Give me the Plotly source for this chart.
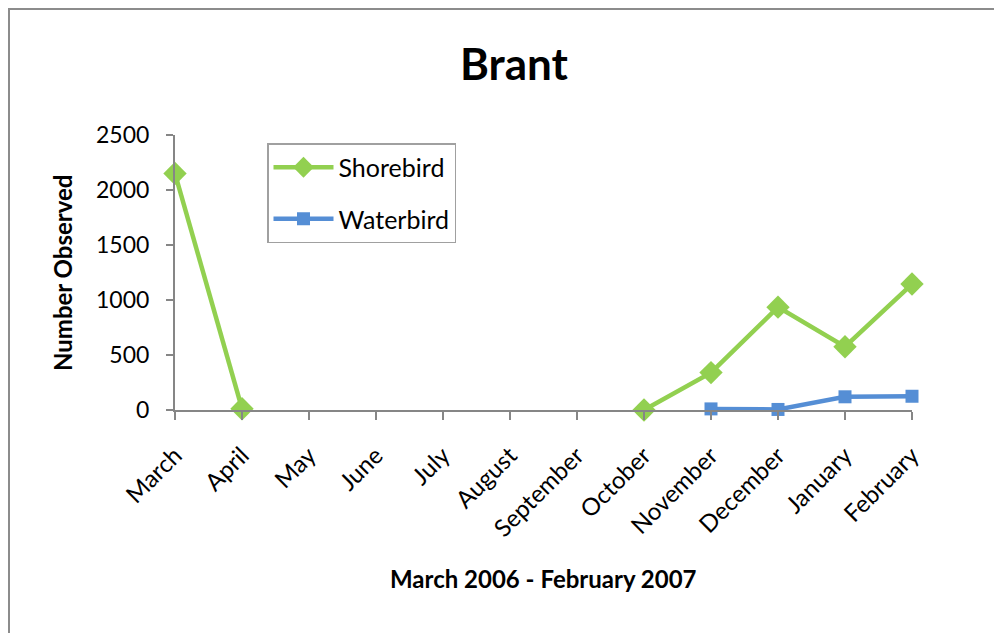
import plotly.graph_objects as go

months = ["March", "April", "May", "June", "July", "August", "September",
          "October", "November", "December", "January", "February"]
shorebird = [2150, 12, None, None, None, None, None, 0, 340, 935, 575, 1145]
waterbird = [None, None, None, None, None, None, None, None, 10, 5, 120, 125]

FONT = "Lato"
AXIS_GRAY = "#868686"
OFF = 8  # page body margin

fig = go.Figure()
fig.add_trace(go.Scatter(
    x=months, y=shorebird, name="Shorebird", mode="lines+markers",
    legendgroup="s",
    line=dict(color="#92D050", width=4.5),
    marker=dict(symbol="diamond", size=18, color="#92D050"),
    connectgaps=False, cliponaxis=False))
fig.add_trace(go.Scatter(
    x=months, y=waterbird, name="Waterbird", mode="lines+markers",
    legendgroup="w",
    line=dict(color="#558ED5", width=4.5),
    marker=dict(symbol="square", size=13, color="#558ED5"),
    connectgaps=False, cliponaxis=False))

# plot area in reference pixels: x 175..912, y 135..410
L, T = 175 - OFF, 135 - OFF
R, B = 1002 - (912 - OFF), 633 - (410 - OFF)
W, H = 1002 - L - R, 633 - T - B


def px(x):
    return (x - OFF - L) / W


def py(y):
    return (633 - B - (y - OFF)) / H


fig.update_layout(
    width=1002, height=633,
    margin=dict(l=L, r=R, t=T, b=B),
    paper_bgcolor="white", plot_bgcolor="white",
    font=dict(family=FONT, size=22, color="black"),
    title=dict(text="<b>Brant</b>", x=(514 - OFF) / 1002, xanchor="center",
               y=1 - (65 - OFF) / 633, yanchor="middle",
               font=dict(family=FONT, size=44, color="black")),
    showlegend=True,
    legend=dict(x=px(267), y=py(143), xanchor="left", yanchor="top",
                bordercolor="#A0A0A0", borderwidth=1.5,
                font=dict(family=FONT, size=25),
                tracegroupgap=16, itemwidth=60),
    xaxis=dict(type="category", range=[0, 11], showgrid=False,
               showline=True, linecolor=AXIS_GRAY, linewidth=2,
               ticks="outside", ticklen=8, tickcolor=AXIS_GRAY, tickwidth=2,
               tickangle=-45, tickfont=dict(size=24), ticklabelstandoff=12,
               zeroline=False),
    yaxis=dict(range=[0, 2500], dtick=500, showgrid=False,
               showline=True, linecolor=AXIS_GRAY, linewidth=2,
               ticks="outside", ticklen=7, tickcolor=AXIS_GRAY, tickwidth=2,
               tickfont=dict(size=23), ticklabelstandoff=12, zeroline=False),
    annotations=[
        dict(text="<b>Number Observed</b>", textangle=-90,
             x=px(62), y=py(273), xref="paper", yref="paper",
             xanchor="center", yanchor="middle",
             showarrow=False, font=dict(family=FONT, size=24)),
        dict(text="<b>March 2006 - February 2007</b>",
             x=px(543), y=py(578), xref="paper", yref="paper",
             xanchor="center", yanchor="middle",
             showarrow=False, font=dict(family=FONT, size=24)),
    ],
    shapes=[
        dict(type="rect", xref="paper", yref="paper",
             x0=px(9), x1=px(1030), y0=py(660), y1=py(9),
             line=dict(color="#8C8C8C", width=2), layer="below"),
    ],
)

fig.write_html("out.html")
